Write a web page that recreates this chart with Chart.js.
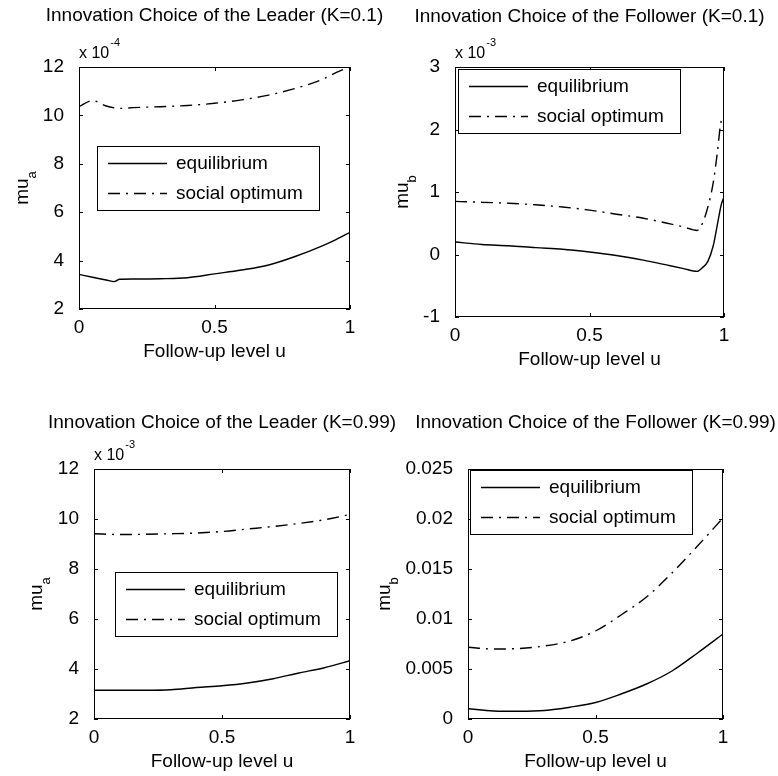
<!DOCTYPE html>
<html lang="en">
<head>
<meta charset="UTF-8">
<title>Innovation Choice of the Leader and the Follower</title>
<script src="https://cdn.jsdelivr.net/npm/chart.js@4.4.1/dist/chart.umd.min.js"></script>
<style>
    body { margin: 0; background: #fff; }
    #wrap { position: relative; width: 778px; height: 776px; }
    #wrap canvas { position: absolute; left: 0; top: 0; }
</style>
</head>
<body>
<div id="wrap">
    <canvas id="c1" width="778" height="776"></canvas>
    <canvas id="c2" width="778" height="776"></canvas>
    <canvas id="c3" width="778" height="776"></canvas>
    <canvas id="c4" width="778" height="776"></canvas>
</div>
<script>
// follow-up level u and the curves of each panel
// leader K=0.1 (values x 1e-4)
const u1 = [0, 0.05, 0.1, 0.13, 0.15, 0.2, 0.3, 0.4, 0.5, 0.6, 0.7, 0.8, 0.9, 0.95, 1];
const leaderEqK01 = [3.43, 3.31, 3.2, 3.13, 3.23, 3.24, 3.25, 3.29, 3.45, 3.61, 3.82, 4.18, 4.62, 4.88, 5.17];
const leaderSoK01 = [10.36, 10.61, 10.39, 10.31, 10.29, 10.32, 10.36, 10.41, 10.5, 10.64, 10.84, 11.12, 11.5, 11.78, 12.0];

// follower K=0.1 (values x 1e-3)
const u2 = [0, 0.1, 0.2, 0.3, 0.4, 0.5, 0.6, 0.7, 0.8, 0.85, 0.9, 0.92, 0.94, 0.96, 0.975, 0.99, 1];
const followerEqK01 = [0.2, 0.16, 0.14, 0.11, 0.085, 0.04, -0.015, -0.09, -0.18, -0.225, -0.27, -0.21, -0.11, 0.14, 0.47, 0.8, 0.92];
const followerSoK01 = [0.85, 0.835, 0.82, 0.795, 0.76, 0.71, 0.645, 0.58, 0.49, 0.44, 0.385, 0.5, 0.76, 1.15, 1.62, 2.14, 2.18];

// leader K=0.99 (values x 1e-3)
const u3 = [0, 0.1, 0.2, 0.3, 0.4, 0.5, 0.6, 0.7, 0.8, 0.9, 1];
const leaderEqK099 = [3.15, 3.15, 3.15, 3.17, 3.26, 3.33, 3.44, 3.61, 3.84, 4.05, 4.33];
const leaderSoK099 = [9.41, 9.38, 9.39, 9.41, 9.44, 9.5, 9.6, 9.7, 9.82, 9.97, 10.18];

// follower K=0.99
const u4 = [0, 0.1, 0.2, 0.3, 0.4, 0.5, 0.6, 0.7, 0.8, 0.9, 1];
const followerEqK099 = [0.00103, 0.0008, 0.00077, 0.00085, 0.00118, 0.00165, 0.0025, 0.0035, 0.0048, 0.0066, 0.0085];
const followerSoK099 = [0.00717, 0.007, 0.00705, 0.0073, 0.0078, 0.0088, 0.0104, 0.0122, 0.0146, 0.0173, 0.0201];

const seriesNames = ['equilibrium', 'social optimum'];
const xTicks = [0, 0.5, 1];

const FONT = "'Liberation Sans', Arial, Helvetica, sans-serif";
const TICK = 4;
const Y_AXIS_W = 70;
const X_AXIS_H = 40;

// box, inward ticks, titles, labels and legend drawn like a matlab axes
const decor = {
    id: 'decor',
    afterDraw(chart, args, o) {
        const ctx = chart.ctx;
        const a = chart.chartArea;
        const xs = chart.scales.x, ys = chart.scales.y;
        const cx = (a.left + a.right) / 2;
        ctx.save();
        ctx.strokeStyle = '#000';
        ctx.fillStyle = '#000';
        ctx.lineWidth = 1;
        ctx.setLineDash([]);

        // ticks on all four sides
        ctx.beginPath();
        xs.ticks.forEach(t => {
            const px = Math.round(xs.getPixelForValue(t.value)) + 0.5;
            ctx.moveTo(px, a.bottom); ctx.lineTo(px, a.bottom - TICK);
            ctx.moveTo(px, a.top); ctx.lineTo(px, a.top + TICK);
        });
        ys.ticks.forEach(t => {
            const py = Math.round(ys.getPixelForValue(t.value)) + 0.5;
            ctx.moveTo(a.left, py); ctx.lineTo(a.left + TICK, py);
            ctx.moveTo(a.right, py); ctx.lineTo(a.right - TICK, py);
        });
        ctx.stroke();
        ctx.strokeRect(a.left + 0.5, a.top + 0.5, a.width - 1, a.height - 1);

        // title
        ctx.font = '19px ' + FONT;
        ctx.textAlign = 'center';
        ctx.textBaseline = 'alphabetic';
        ctx.fillText(o.title, cx, a.top - o.titleGap);

        // x label
        ctx.fillText('Follow-up level u', cx, a.bottom + 47.5);

        // exponent above the y axis
        if (o.exponent) {
            ctx.textAlign = 'left';
            ctx.font = '16px ' + FONT;
            ctx.fillText('x 10', a.left, a.top - 9.5);
            const w = ctx.measureText('x 10').width;
            ctx.font = '11px ' + FONT;
            ctx.fillText(o.exponent, w + a.left + 1, a.top - 21);
        }

        // y label with subscript
        ctx.save();
        ctx.translate(a.left - o.ylabelGap, (a.top + a.bottom) / 2);
        ctx.rotate(-Math.PI / 2);
        ctx.font = '19px ' + FONT;
        const wMain = ctx.measureText('mu').width;
        ctx.font = '13px ' + FONT;
        const wSub = ctx.measureText(o.sub).width;
        const start = -(wMain + wSub) / 2;
        ctx.textAlign = 'left';
        ctx.font = '19px ' + FONT;
        ctx.fillText('mu', start, 0);
        ctx.font = '13px ' + FONT;
        ctx.fillText(o.sub, start + wMain, 8);
        ctx.restore();

        // legend
        const lx = a.left + o.legend[0], ly = a.top + o.legend[1];
        ctx.fillStyle = '#fff';
        ctx.fillRect(lx, ly, 222, 64);
        ctx.strokeRect(lx + 0.5, ly + 0.5, 222, 64);
        ctx.font = '19px ' + FONT;
        ctx.textAlign = 'left';
        ctx.textBaseline = 'middle';
        chart.data.datasets.forEach((ds, i) => {
            const ry = Math.round(ly + 17 + i * 30) + 0.5;
            ctx.setLineDash(ds.borderDash || []);
            ctx.lineWidth = ds.borderWidth;
            ctx.beginPath();
            ctx.moveTo(lx + 11, ry);
            ctx.lineTo(lx + 70, ry);
            ctx.stroke();
            ctx.setLineDash([]);
            ctx.fillStyle = '#000';
            ctx.fillText(ds.label, lx + 79, ry);
        });
        ctx.restore();
    }
};

function points(u, v) {
    return u.map((x, i) => ({ x: x, y: v[i] }));
}

function makePanel(id, area, u, eq, so, yRange, labelFmt, decorOpts) {
    const ctx = document.getElementById(id).getContext('2d');
    return new Chart(ctx, {
        type: 'line',
        data: {
            datasets: [{
                label: seriesNames[0],
                data: points(u, eq),
                borderColor: '#000',
                borderWidth: 1.4,
                pointRadius: 0,
                cubicInterpolationMode: 'monotone'
            }, {
                label: seriesNames[1],
                data: points(u, so),
                borderColor: '#000',
                borderWidth: 1.4,
                borderDash: [12, 6, 2, 6],
                pointRadius: 0,
                cubicInterpolationMode: 'monotone'
            }]
        },
        options: {
            responsive: false,
            animation: false,
            devicePixelRatio: 1,
            events: [],
            layout: {
                padding: {
                    left: area.left - Y_AXIS_W,
                    top: area.top,
                    right: 778 - area.right,
                    bottom: 776 - area.bottom - X_AXIS_H
                }
            },
            scales: {
                x: {
                    type: 'linear',
                    min: 0,
                    max: 1,
                    afterBuildTicks: s => { s.ticks = xTicks.map(v => ({ value: v })); },
                    afterFit: s => { s.height = X_AXIS_H; },
                    grid: { display: false },
                    border: { display: false },
                    ticks: {
                        font: { family: FONT, size: 19 },
                        color: '#000',
                        padding: -1,
                        maxRotation: 0,
                        autoSkip: false,
                        callback: v => String(v)
                    }
                },
                y: {
                    min: yRange[0],
                    max: yRange[1],
                    afterFit: s => { s.width = Y_AXIS_W; },
                    grid: { display: false },
                    border: { display: false },
                    ticks: {
                        stepSize: yRange[2],
                        font: { family: FONT, size: 19 },
                        color: '#000',
                        padding: 7,
                        autoSkip: false,
                        callback: labelFmt
                    }
                }
            },
            plugins: {
                legend: { display: false },
                tooltip: { enabled: false },
                decor: decorOpts
            }
        },
        plugins: [decor]
    });
}

const intFmt = v => String(Math.round(v));
const smallFmt = v => String(parseFloat(v.toFixed(4)));

makePanel('c1', { left: 79, top: 67, right: 350, bottom: 309 }, u1, leaderEqK01, leaderSoK01,
    [2, 12, 2], intFmt,
    { title: 'Innovation Choice of the Leader (K=0.1)', titleGap: 46, exponent: '-4',
      sub: 'a', ylabelGap: 51, legend: [18, 79] });

makePanel('c2', { left: 455, top: 67, right: 724, bottom: 317 }, u2, followerEqK01, followerSoK01,
    [-1, 3, 1], intFmt,
    { title: 'Innovation Choice of the Follower (K=0.1)', titleGap: 45, exponent: '-3',
      sub: 'b', ylabelGap: 47, legend: [3, 2] });

makePanel('c3', { left: 94, top: 469, right: 350, bottom: 719 }, u3, leaderEqK099, leaderSoK099,
    [2, 12, 2], intFmt,
    { title: 'Innovation Choice of the Leader (K=0.99)', titleGap: 41, exponent: '-3',
      sub: 'a', ylabelGap: 52, legend: [21, 103] });

makePanel('c4', { left: 468, top: 469, right: 723, bottom: 719 }, u4, followerEqK099, followerSoK099,
    [0, 0.025, 0.005], smallFmt,
    { title: 'Innovation Choice of the Follower (K=0.99)', titleGap: 41, exponent: null,
      sub: 'b', ylabelGap: 78, legend: [2, 1] });
</script>
</body>
</html>
